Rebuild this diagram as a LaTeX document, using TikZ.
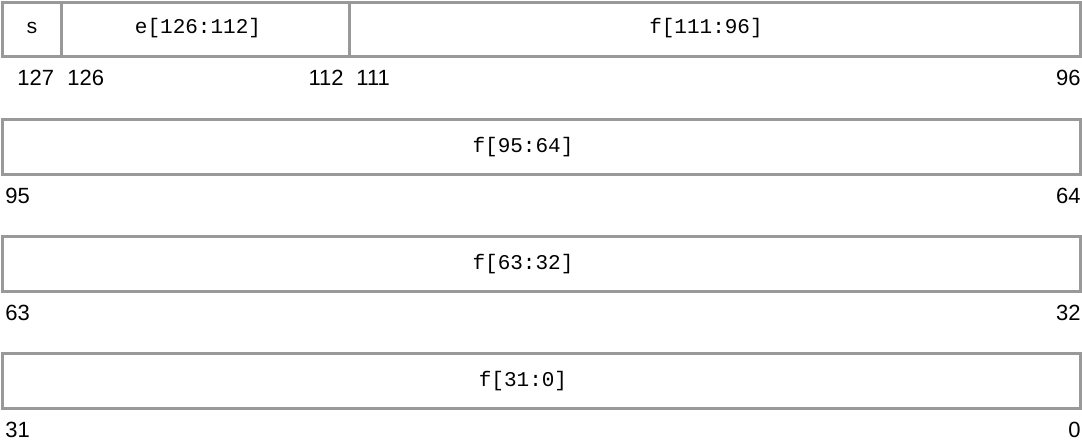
\documentclass[tikz,border=0pt]{standalone}
\usepackage{fontspec}
\setmainfont{Liberation Sans}
\setmonofont{Liberation Mono}
\usepackage{tikz}
\usetikzlibrary{positioning}
\definecolor{regline}{RGB}{153,153,153}

\begin{document}
\begin{tikzpicture}[x=0.5pt,y=-0.5pt]
\tikzset{field/.style={draw=regline,line width=1.5pt}}
\tikzset{fname/.style={font=\ttfamily\fontsize{10.5}{12}\selectfont,inner sep=0pt}}
\tikzset{bitno/.style={font=\fontsize{11}{13}\selectfont,inner sep=0pt}}
\useasboundingbox (0,0) rectangle (1082,447);
%\fill[white] (0,0) rectangle (1082,447);
\draw[field] (2,2) rectangle (1080,56);
\draw[field] (61,2) -- (61,56);
\draw[field] (349,2) -- (349,56);
\draw[field] (2,119) rectangle (1080,174);
\draw[field] (2,236) rectangle (1080,291);
\draw[field] (2,353) rectangle (1080,408);

\node[fname] (s) at (32,28) {s};
\node[fname] (e) at (198,28) {e[126:112]};
\node[fname] (f3) at (706,28) {f[111:96]};
\node[fname] (f2) at (523,147) {f[95:64]};
\node[fname] (f1) at (523,264) {f[63:32]};
\node[fname] (f0) at (523,381) {f[31:0]};

\node[bitno,anchor=west] (b127) at (17,78) {127};
\node[bitno,anchor=west] (b126) at (67,78) {126};
\node[bitno,anchor=east] (b112) at (344,78) {112};
\node[bitno,anchor=west] (b111) at (356,78) {111};
\node[bitno,anchor=east] (b96) at (1081,78) {96};
\node[bitno,anchor=west] (b95) at (5,196) {95};
\node[bitno,anchor=east] (b64) at (1081,196) {64};
\node[bitno,anchor=west] (b63) at (5,313) {63};
\node[bitno,anchor=east] (b32) at (1081,313) {32};
\node[bitno,anchor=west] (b31) at (5,430) {31};
\node[bitno,anchor=east] (b0) at (1081,430) {0};
\end{tikzpicture}
\end{document}
